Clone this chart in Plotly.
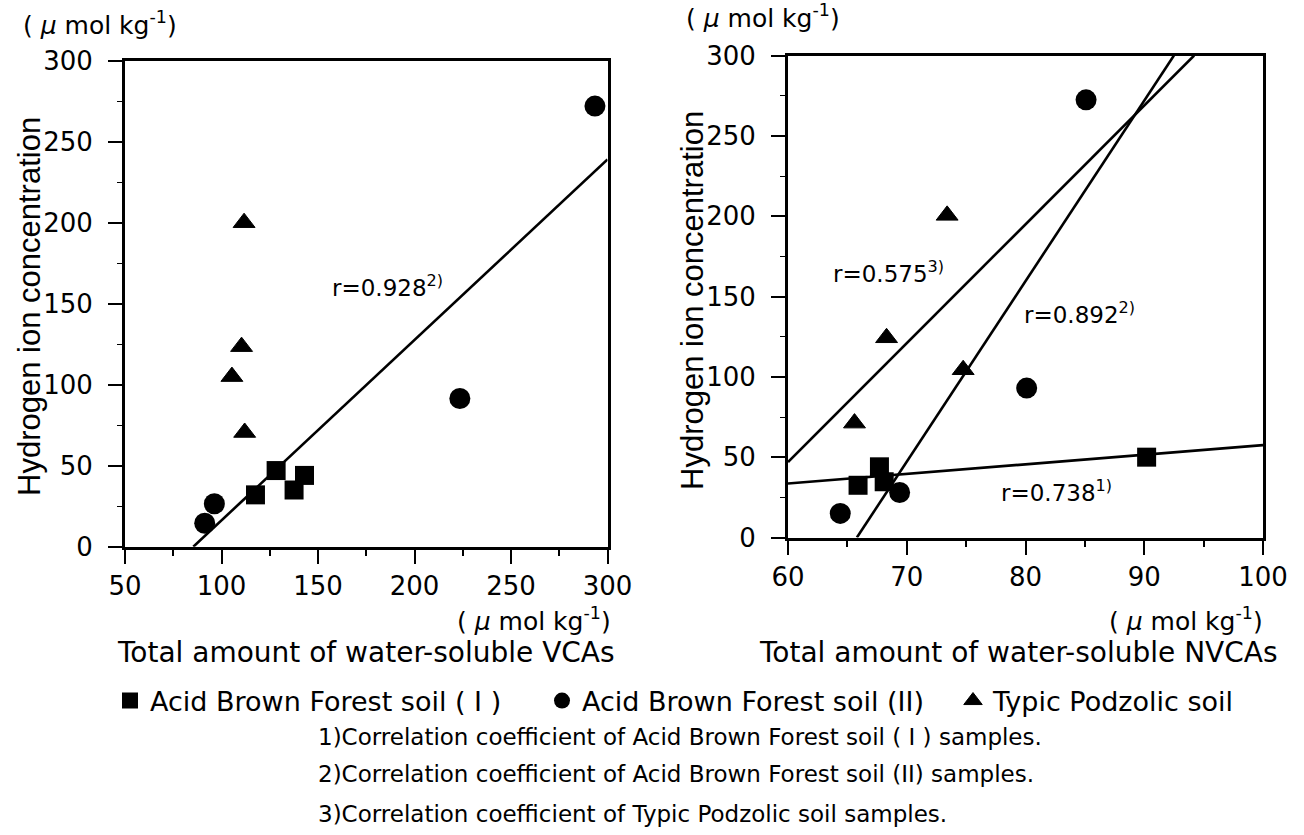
import plotly.graph_objects as go

# ---------------- data ----------------
# Left panel: x = total water-soluble VCAs, y = hydrogen ion concentration
left_sq_x = [117.6, 128.3, 137.6, 143.0]
left_sq_y = [32.0, 47.0, 35.0, 44.0]
left_ci_x = [293.5, 223.5, 96.3, 91.3]
left_ci_y = [272.0, 91.5, 26.5, 14.5]
left_tr_x = [111.7, 110.4, 105.4, 112.0]
left_tr_y = [200.0, 123.5, 105.0, 70.5]
left_fit_x = [85.4, 300.0]
left_fit_y = [0.0, 239.0]

# Right panel: x = total water-soluble NVCAs
right_sq_x = [65.9, 67.7, 68.1, 90.2]
right_sq_y = [32.5, 44.0, 34.7, 50.0]
right_ci_x = [85.1, 80.1, 69.4, 64.4]
right_ci_y = [272.4, 93.0, 28.0, 15.0]
right_tr_x = [73.4, 68.3, 74.75, 65.6]
right_tr_y = [200.5, 124.3, 104.4, 71.2]
right_fit_tr_x = [60.0, 94.2]
right_fit_tr_y = [47.0, 300.0]
right_fit_ci_x = [65.8, 92.5]
right_fit_ci_y = [0.0, 300.0]
right_fit_sq_x = [60.0, 100.0]
right_fit_sq_y = [33.6, 57.5]

series_names = ["Acid Brown Forest soil ( I )", "Acid Brown Forest soil (II)", "Typic Podzolic soil"]
left_ticks = [50, 100, 150, 200, 250, 300]
right_ticks = [60, 70, 80, 90, 100]
y_ticks = [0, 50, 100, 150, 200, 250, 300]

r_labels_left = ["r=0.928<sup>2)</sup>"]
r_labels_right = ["r=0.575<sup>3)</sup>", "r=0.892<sup>2)</sup>", "r=0.738<sup>1)</sup>"]
footnotes = [
    "1)Correlation coefficient of Acid Brown Forest soil ( I ) samples.",
    "2)Correlation coefficient of Acid Brown Forest soil (II) samples.",
    "3)Correlation coefficient of Typic Podzolic soil samples.",
]
unit = "( <i>μ</i> mol kg<sup>-1</sup>)"

# ---------------- layout helpers ----------------
W, H = 1304, 835
FONT = "DejaVu Sans"


def px(x):
    return x / W


def py(y):
    return 1 - y / H


fig = go.Figure()

mk = dict(color="black")
LW = 2.6

# left panel traces (these also feed the legends)
fig.add_trace(go.Scatter(x=left_fit_x, y=left_fit_y, mode="lines", line=dict(color="black", width=LW),
                         showlegend=False, xaxis="x", yaxis="y"))
fig.add_trace(go.Scatter(x=left_sq_x, y=left_sq_y, mode="markers", name=series_names[0], legend="legend",
                         marker=dict(symbol="square", size=19, **mk), xaxis="x", yaxis="y"))
fig.add_trace(go.Scatter(x=left_ci_x, y=left_ci_y, mode="markers", name=series_names[1], legend="legend2",
                         marker=dict(symbol="circle", size=21, **mk), xaxis="x", yaxis="y"))
fig.add_trace(go.Scatter(x=left_tr_x, y=left_tr_y, mode="markers", name=series_names[2], legend="legend3",
                         marker=dict(symbol="triangle-up", size=19, line=dict(width=1, color="black"), **mk),
                         xaxis="x", yaxis="y"))

# right panel traces
for fx, fy in [(right_fit_tr_x, right_fit_tr_y), (right_fit_ci_x, right_fit_ci_y), (right_fit_sq_x, right_fit_sq_y)]:
    fig.add_trace(go.Scatter(x=fx, y=fy, mode="lines", line=dict(color="black", width=LW),
                             showlegend=False, xaxis="x2", yaxis="y2"))
fig.add_trace(go.Scatter(x=right_sq_x, y=right_sq_y, mode="markers", showlegend=False,
                         marker=dict(symbol="square", size=19, **mk), xaxis="x2", yaxis="y2"))
fig.add_trace(go.Scatter(x=right_ci_x, y=right_ci_y, mode="markers", showlegend=False,
                         marker=dict(symbol="circle", size=21, **mk), xaxis="x2", yaxis="y2"))
fig.add_trace(go.Scatter(x=right_tr_x, y=right_tr_y, mode="markers", showlegend=False,
                         marker=dict(symbol="triangle-up", size=19, line=dict(width=1, color="black"), **mk),
                         xaxis="x2", yaxis="y2"))

axis_common = dict(showline=True, linecolor="black", linewidth=3, mirror=True, showgrid=False,
                   zeroline=False, ticks="outside", tickcolor="black", tickwidth=2, ticklen=14,
                   tickfont=dict(family=FONT, size=26, color="black"))

leg_common = dict(orientation="h", xanchor="left", yanchor="middle",
                  font=dict(family=FONT, size=27, color="black"),
                  bgcolor="rgba(0,0,0,0)", itemsizing="trace")

fig.update_layout(
    width=W, height=H,
    margin=dict(l=0, r=0, t=0, b=0, autoexpand=False),
    paper_bgcolor="white", plot_bgcolor="white",
    font=dict(family=FONT, color="black"),
    xaxis=dict(domain=[px(125), px(607.5)], range=[50, 300], tickvals=left_ticks, anchor="y",
               minor=dict(ticks="outside", ticklen=6, dtick=25, tickcolor="black", tickwidth=2),
               **axis_common),
    yaxis=dict(domain=[py(546.7), py(60.7)], range=[0, 300], tickvals=y_ticks, anchor="x",
               ticklabelstandoff=10,
               minor=dict(ticks="outside", ticklen=5, dtick=25, tickcolor="black", tickwidth=1),
               **axis_common),
    xaxis2=dict(domain=[px(788), px(1263)], range=[60, 100], tickvals=right_ticks, anchor="y2",
                minor=dict(ticks="outside", ticklen=6, dtick=5, tickcolor="black", tickwidth=2),
                **axis_common),
    yaxis2=dict(domain=[py(537.5), py(55.5)], range=[0, 300], tickvals=y_ticks, anchor="x2",
                ticklabelstandoff=10,
                minor=dict(ticks="outside", ticklen=5, dtick=25, tickcolor="black", tickwidth=1),
                **axis_common),
    legend=dict(x=px(110), y=py(701), **leg_common),
    legend2=dict(x=px(542), y=py(701), **leg_common),
    legend3=dict(x=px(953), y=py(701), **leg_common),
)

ann = []
# correlation labels
ann.append(dict(x=156, y=161, xref="x", yref="y", text=r_labels_left[0], showarrow=False,
                xanchor="left", yanchor="middle", font=dict(family=FONT, size=23)))
for (x, y), t in zip([(63.6, 165), (79.7, 139.7), (77.8, 29.2)], r_labels_right):
    ann.append(dict(x=x, y=y, xref="x2", yref="y2", text=t, showarrow=False,
                    xanchor="left", yanchor="middle", font=dict(family=FONT, size=23)))

# unit labels
for (x, y) in [(100, 24), (763, 17), (534, 619), (1186, 619)]:
    ann.append(dict(x=px(x), y=py(y), xref="paper", yref="paper", text=unit, showarrow=False,
                    xanchor="center", yanchor="middle", borderpad=0, font=dict(family=FONT, size=25)))

# y axis titles
for (x, y) in [(30, 307), (692, 301)]:
    ann.append(dict(x=px(x), y=py(y), xref="paper", yref="paper", text="Hydrogen ion concentration",
                    textangle=-90, showarrow=False, xanchor="center", yanchor="middle",
                    font=dict(family="Liberation Sans", size=31)))

# x axis titles
ann.append(dict(x=px(366), y=py(652), xref="paper", yref="paper", text="Total amount of water-soluble VCAs",
                showarrow=False, xanchor="center", yanchor="middle", borderpad=0, font=dict(family=FONT, size=28)))
ann.append(dict(x=px(1018), y=py(652), xref="paper", yref="paper", text="Total amount of water-soluble NVCAs",
                showarrow=False, xanchor="center", yanchor="middle", borderpad=0, font=dict(family=FONT, size=28)))

# footnotes
for t, y in zip(footnotes, [737, 774, 814]):
    ann.append(dict(x=px(316), y=py(y), xref="paper", yref="paper", text=t, showarrow=False,
                    xanchor="left", yanchor="middle", font=dict(family=FONT, size=23)))

fig.update_layout(annotations=ann)

fig.write_html("out.html")
